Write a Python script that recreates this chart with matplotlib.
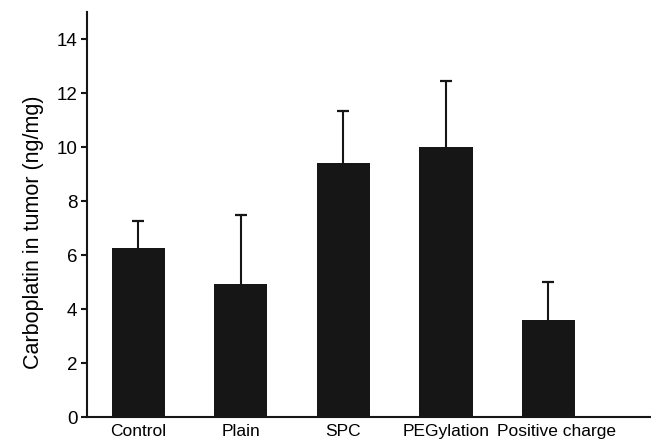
import matplotlib
matplotlib.use("Agg")
import matplotlib.pyplot as plt
from matplotlib.transforms import offset_copy

plt.rcParams['font.family'] = ['Liberation Sans', 'DejaVu Sans']

categories = ["Control", "Plain", "SPC", "PEGylation", "Positive charge"]
means = [6.28, 4.92, 9.43, 9.99, 3.62]
upper_err = [0.98, 2.56, 1.90, 2.45, 1.39]
yticks = [0, 2, 4, 6, 8, 10, 12, 14]

fig = plt.figure(figsize=(6.51, 4.46), dpi=100)
ax = fig.add_axes([0.1336, 0.064, 0.8664, 0.909])

x = list(range(len(categories)))
tops = [m + e for m, e in zip(means, upper_err)]
color = "#161616"
ax.bar(x, means, width=0.52, color=color, zorder=2)
# upward-only error bars: stem from bar top, cap at the upper end
ax.vlines(x, means, tops, colors=color, linewidth=1.5, zorder=1)
ax.plot(x, tops, linestyle="none", marker="_", markersize=9,
        markeredgewidth=1.6, color=color, zorder=1)

ax.set_xlim(-0.5, 5.0)
ax.set_ylim(0, 15)
ax.set_yticks(yticks)
ax.set_xticks(x)
ax.set_xticklabels([])
ax.tick_params(axis="y", labelsize=13.5, length=4, width=1.5, pad=3, color=color)
ax.tick_params(axis="x", length=0)

# category names under the bars; the last one is nudged right to clear its neighbour
nudges_px = [0, 0, 0, 0, 8]
for xi, name, dx in zip(x, categories, nudges_px):
    tr = offset_copy(ax.get_xaxis_transform(), fig=fig, x=dx, y=-7, units="dots")
    ax.text(xi, 0, name, transform=tr, ha="center", va="top", fontsize=12.5)

ax.set_ylabel("Carboplatin in tumor (ng/mg)", fontsize=15.5)
ax.yaxis.set_label_coords(-0.077, 0.457)

for side in ("top", "right"):
    ax.spines[side].set_visible(False)
for side in ("left", "bottom"):
    ax.spines[side].set_linewidth(1.5)
    ax.spines[side].set_color(color)

fig.savefig("out.png", dpi=100)
